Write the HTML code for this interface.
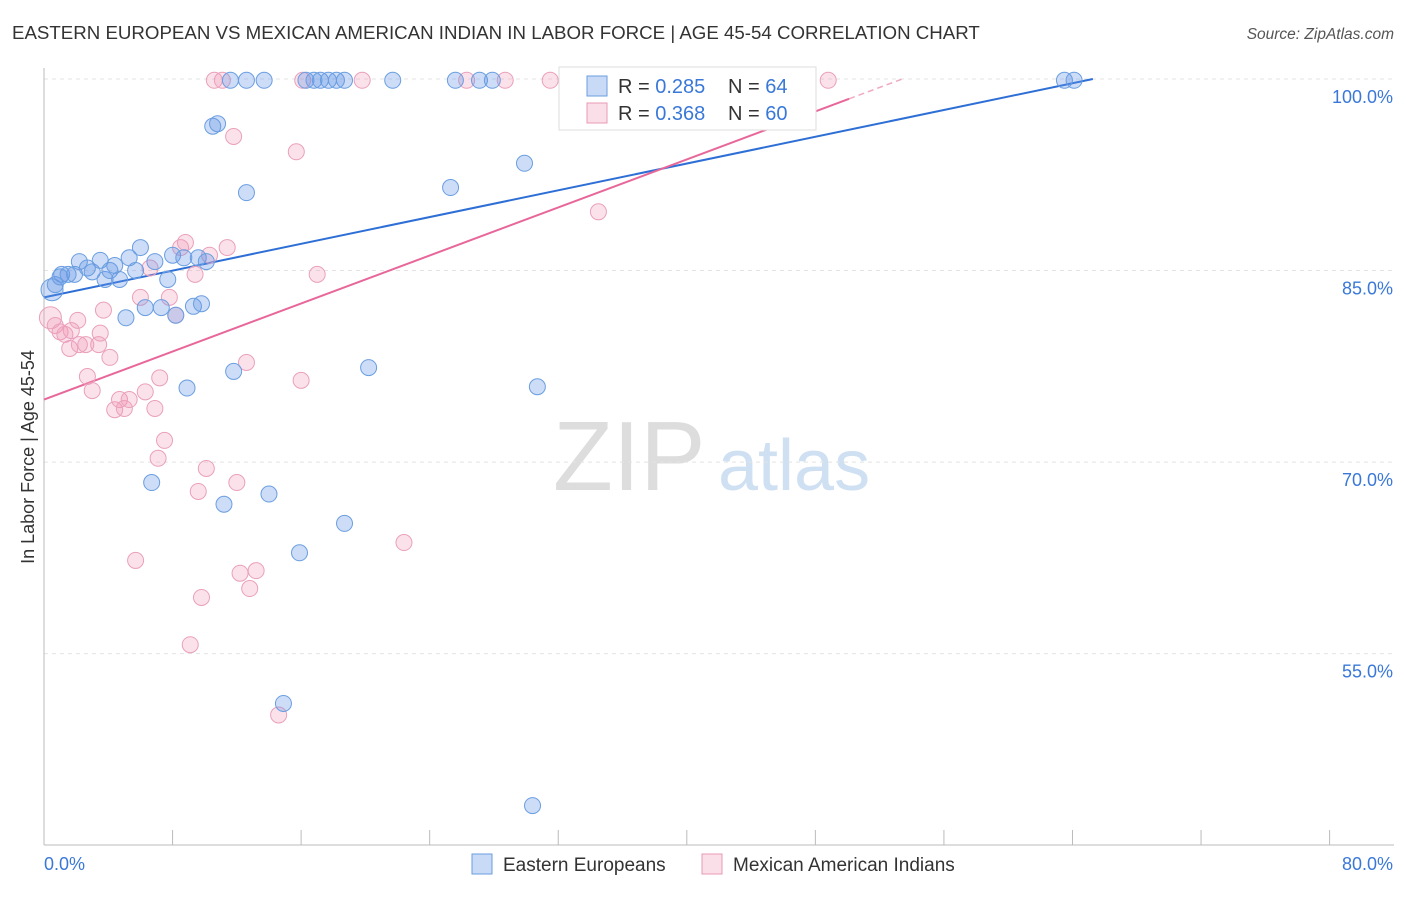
<!DOCTYPE html>
<html><head><meta charset="utf-8"><style>
body{margin:0;background:#fff;font-family:"Liberation Sans",sans-serif}
svg text{font-family:"Liberation Sans",sans-serif}
</style></head><body>
<svg id="chart" width="1406" height="892" xmlns="http://www.w3.org/2000/svg">
<text x="12" y="39" font-size="18.7" fill="#333">EASTERN EUROPEAN VS MEXICAN AMERICAN INDIAN IN LABOR FORCE | AGE 45-54 CORRELATION CHART</text>
<text x="1394" y="39" font-size="15.5" fill="#555" font-style="italic" text-anchor="end">Source: ZipAtlas.com</text>
<g>
<text x="553" y="490" font-size="98" fill="#ddd" font-family="Liberation Serif,serif">ZIP</text>
<text x="718" y="490" font-size="72" fill="#cfe0f3">atlas</text></g>
<g id="grid"></g><g id="axes"></g><g id="trends"></g><g id="pts"></g>
<text transform="translate(34,457) rotate(-90)" font-size="18" fill="#333" text-anchor="middle">In Labor Force | Age 45-54</text>
<g>
<rect x="559" y="67" width="257" height="63" fill="#fff" stroke="#ddd"/>
<rect x="587" y="76" width="20" height="20" fill="rgba(100,150,230,0.35)" stroke="#6a9ee0"/>
<text x="618" y="93" font-size="20" fill="#333">R = <tspan fill="#3a78d8">0.285</tspan><tspan x="728">N = </tspan><tspan fill="#3a78d8">64</tspan></text>
<rect x="587" y="103" width="20" height="20" fill="rgba(240,150,180,0.3)" stroke="#e89ab5"/>
<text x="618" y="120" font-size="20" fill="#333">R = <tspan fill="#3a78d8">0.368</tspan><tspan x="728">N = </tspan><tspan fill="#3a78d8">60</tspan></text>
</g>
<g>
<rect x="472" y="854" width="20" height="20" fill="rgba(100,150,230,0.35)" stroke="#6a9ee0"/>
<text x="503" y="871" font-size="19" fill="#333">Eastern Europeans</text>
<rect x="702" y="854" width="20" height="20" fill="rgba(240,150,180,0.3)" stroke="#e89ab5"/>
<text x="733" y="871" font-size="19" fill="#333">Mexican American Indians</text>
</g>
</svg>
<script>
const yTicks=[55,70,85,100];
const yTickLabels=["55.0%","70.0%","85.0%","100.0%"];
const xTicks=[0,8,16,24,32,40,48,56,64,72,80];
const blueX=[0.5,0.7,1.1,1.5,1.9,2.2,2.7,3.0,3.5,3.8,4.1,4.4,4.7,5.1,5.3,5.7,6.0,6.3,6.9,7.3,7.7,8.0,8.2,8.7,8.9,9.3,9.6,9.8,10.1,10.5,10.8,11.2,11.6,11.8,12.6,12.6,13.7,14.0,15.9,16.3,16.8,17.2,17.7,18.2,18.7,18.7,20.2,21.7,25.3,25.6,27.1,27.9,29.9,30.4,30.7,34.8,63.5,64.1,14.9,6.7,1.0];
const blueY=[83.5,83.9,84.7,84.7,84.7,85.7,85.2,84.9,85.8,84.3,85.0,85.4,84.3,81.3,86.0,85.0,86.8,82.1,85.7,82.1,84.3,86.2,81.5,86.0,75.8,82.2,86.0,82.4,85.7,96.3,96.5,66.7,99.9,77.1,99.9,91.1,99.9,67.5,62.9,99.9,99.9,99.9,99.9,99.9,99.9,65.2,77.4,99.9,91.5,99.9,99.9,99.9,93.4,43.1,75.9,99.9,99.9,99.9,51.1,68.4,84.5];
const pinkX=[0.4,0.7,1.0,1.3,1.6,1.7,2.1,2.2,2.6,2.7,3.0,3.4,3.5,3.7,4.1,4.4,4.7,5.0,5.3,5.7,6.0,6.3,6.6,6.9,7.1,7.2,7.5,7.8,8.2,8.5,8.8,9.1,9.4,9.6,9.8,10.1,10.3,10.6,11.1,11.4,11.8,12.0,12.2,12.6,12.8,13.2,14.6,15.7,16.0,16.1,17.0,19.8,22.4,26.3,28.7,31.5,34.5,48.8];
const pinkY=[81.3,80.7,80.2,80.0,78.9,80.3,81.1,79.2,79.2,76.7,75.6,79.2,80.1,81.9,78.2,74.1,74.9,74.2,74.9,62.3,82.9,75.5,85.2,74.2,70.3,76.6,71.7,82.9,81.5,86.8,87.2,55.7,84.7,67.7,59.4,69.5,86.2,99.9,99.9,86.8,95.5,68.4,61.3,77.8,60.1,61.5,50.2,94.3,76.4,99.9,84.7,99.9,63.7,99.9,99.9,99.9,89.6,99.9];
const blueTrend=[82.9,0.262];
const pinkTrend=[74.9,0.47];
const NS="http://www.w3.org/2000/svg";
const sx=v=>44+v*16.07, sy=v=>79+(100-v)*12.77;
function mk(t,a,p){const e=document.createElementNS(NS,t);for(const k in a)e.setAttribute(k,a[k]);document.getElementById(p).appendChild(e);return e;}
yTicks.forEach((t,i)=>{
 const l=mk('line',{x1:44,x2:1394,y1:sy(t),y2:sy(t),stroke:'#e3e3e3','stroke-dasharray':'4,4'},'grid');
 
 
 const tx=mk('text',{x:1393,y:sy(t)+24,'font-size':18,fill:'#3a78d8','text-anchor':'end'},'axes');tx.textContent=yTickLabels[i];
 
 
});
const tl=mk('line',{x1:44,x2:1394,y1:79,y2:79,stroke:'#e3e3e3','stroke-dasharray':'4,4'},'grid');


const xa=mk('line',{x1:44,x2:1394,y1:845,y2:845,stroke:'#bbb'},'axes');


const ya=mk('line',{x1:44,x2:44,y1:68,y2:845,stroke:'#bbb'},'axes');


xTicks.forEach(t=>{const l=mk('line',{x1:sx(t),x2:sx(t),y1:830,y2:845,stroke:'#bbb'},'axes');
 
 });
const x0=mk('text',{x:44,y:870,'font-size':18,fill:'#3a78d8'},'axes');x0.textContent='0.0%';


const x1=mk('text',{x:1393,y:870,'font-size':18,fill:'#3a78d8','text-anchor':'end'},'axes');x1.textContent='80.0%';


const bEnd=(100-blueTrend[0])/blueTrend[1];
const bl=mk('line',{x1:sx(0),y1:sy(blueTrend[0]),x2:sx(bEnd),y2:sy(100),stroke:'#2e6fd6','stroke-width':2},'trends');


const pSolid=50.1, pEnd=(100-pinkTrend[0])/pinkTrend[1];
const pl=mk('line',{x1:sx(0),y1:sy(pinkTrend[0]),x2:sx(pSolid),y2:sy(pinkTrend[0]+pinkTrend[1]*pSolid),stroke:'#e8679a','stroke-width':2},'trends');


const pd=mk('line',{x1:sx(pSolid),y1:sy(pinkTrend[0]+pinkTrend[1]*pSolid),x2:sx(pEnd),y2:sy(100),stroke:'#f0a9c3','stroke-width':1.5,'stroke-dasharray':'6,4'},'trends');


pinkX.forEach((x,i)=>{const c=mk('circle',{cx:sx(x),cy:sy(pinkY[i]),r:i==0?11:8,fill:'rgba(240,150,180,0.28)',stroke:'#eaa0bb','stroke-width':1},'pts');
 
 });
blueX.forEach((x,i)=>{const c=mk('circle',{cx:sx(x),cy:sy(blueY[i]),r:i==0?11:8,fill:'rgba(100,150,230,0.32)',stroke:'#6a9ee0','stroke-width':1},'pts');
 
 });
</script>
</body></html>
